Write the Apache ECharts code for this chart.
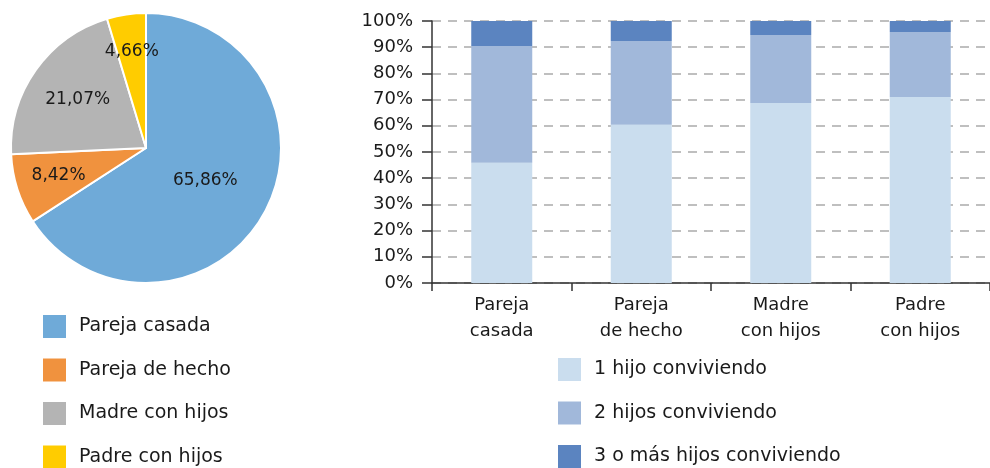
<!DOCTYPE html>
<html>
<head>
    <meta charset="utf-8">
    <title>Hogares con hijos</title>
    <script src="https://cdn.jsdelivr.net/npm/echarts/dist/echarts.min.js"></script>
    <style>
        html, body { margin: 0; padding: 0; background: #fff; }
    </style>
</head>
<body>
    <div id="chart" style="width: 990px; height: 468px;"></div>

    <script type="text/javascript">
        // datos del gráfico circular
        var tiposHogar = ['Pareja casada', 'Pareja de hecho', 'Madre con hijos', 'Padre con hijos'];
        var porcentajesHogar = [65.86, 8.42, 21.07, 4.66];

        // datos de las barras apiladas
        var categorias = ['Pareja\ncasada', 'Pareja\nde hecho', 'Madre\ncon hijos', 'Padre\ncon hijos'];
        var unHijo = [45.9, 60.4, 68.7, 71.0];
        var dosHijos = [44.6, 32.0, 26.0, 24.8];
        var tresOMas = [9.5, 7.6, 5.3, 4.2];
        var nombresSeries = ['1 hijo conviviendo', '2 hijos conviviendo', '3 o más hijos conviviendo'];

        var fuente = 'DejaVu Sans';
        var colorTexto = '#1a1a1a';

        // centro y radio de la tarta, y a qué fracción del radio va cada etiqueta
        var centroTarta = [146, 148];
        var radioTarta = 135;
        var radioEtiqueta = [0.5, 0.68, 0.62, 0.72];

        var chart = echarts.init(document.getElementById('chart'));

        var pieData = tiposHogar.map(function (n, i) {
            return { name: n, value: porcentajesHogar[i] };
        });

        var estiloLeyenda = { fontSize: 19, lineHeight: 23, color: colorTexto, fontFamily: fuente, padding: [0, 0, 0, 8] };

        var option = {
            animation: false,
            color: ['#6FAAD8', '#F0923E', '#B4B4B4', '#FFCC00'],
            textStyle: { fontFamily: fuente, color: colorTexto },
            legend: [
                {
                    orient: 'vertical',
                    left: 43,
                    top: 315,
                    height: 200,
                    padding: 0,
                    itemWidth: 23,
                    itemHeight: 23,
                    itemGap: 20.5,
                    icon: 'rect',
                    itemStyle: { borderWidth: 0 },
                    data: tiposHogar,
                    textStyle: estiloLeyenda
                },
                {
                    orient: 'vertical',
                    left: 558,
                    top: 358,
                    height: 200,
                    padding: 0,
                    itemWidth: 23,
                    itemHeight: 23,
                    itemGap: 20.5,
                    icon: 'rect',
                    itemStyle: { borderWidth: 0 },
                    data: nombresSeries,
                    textStyle: estiloLeyenda
                }
            ],
            grid: {
                left: 432,
                top: 21,
                width: 562,
                bottom: 185,
                containLabel: false
            },
            xAxis: {
                type: 'category',
                data: categorias,
                axisLine: { lineStyle: { color: '#333', width: 1.5 } },
                axisTick: { show: true, length: 8, lineStyle: { color: '#333', width: 1.5 } },
                axisLabel: { fontSize: 18, color: colorTexto, fontFamily: fuente, lineHeight: 26, margin: 9 }
            },
            yAxis: {
                type: 'value',
                min: 0,
                max: 100,
                interval: 10,
                axisLine: { show: true, lineStyle: { color: '#333', width: 1.5 } },
                axisTick: { show: true, length: 10, lineStyle: { color: '#333', width: 1.5 } },
                axisLabel: { fontSize: 18, color: colorTexto, fontFamily: fuente, margin: 19, formatter: '{value}%' },
                splitLine: { lineStyle: { color: '#aaa', type: [9, 7], width: 1.5 } }
            },
            series: [
                {
                    type: 'pie',
                    center: centroTarta,
                    radius: [0, radioTarta],
                    startAngle: 90,
                    clockwise: true,
                    data: pieData,
                    itemStyle: { borderColor: '#fff', borderWidth: 2 },
                    label: {
                        position: 'inside',
                        fontSize: 17,
                        color: colorTexto,
                        fontFamily: fuente,
                        formatter: function (p) {
                            return p.value.toFixed(2).replace('.', ',') + '%';
                        }
                    },
                    // empuja cada etiqueta hacia fuera a lo largo de su radio
                    labelLayout: function (p) {
                        var r = p.labelRect;
                        var vx = r.x + r.width / 2 - centroTarta[0];
                        var vy = r.y + r.height / 2 - centroTarta[1];
                        var len = Math.sqrt(vx * vx + vy * vy) || 1;
                        var k = radioEtiqueta[p.dataIndex] * radioTarta / len - 1;
                        return { dx: vx * k, dy: vy * k };
                    },
                    labelLine: { show: false },
                    emphasis: { disabled: true }
                },
                {
                    name: nombresSeries[0],
                    type: 'bar',
                    stack: 'hijos',
                    barWidth: 61,
                    data: unHijo,
                    itemStyle: { color: '#CADDEE' }
                },
                {
                    name: nombresSeries[1],
                    type: 'bar',
                    stack: 'hijos',
                    data: dosHijos,
                    itemStyle: { color: '#A1B8DA' }
                },
                {
                    name: nombresSeries[2],
                    type: 'bar',
                    stack: 'hijos',
                    data: tresOMas,
                    itemStyle: { color: '#5B84C0' }
                }
            ]
        };

        chart.setOption(option);
    </script>
</body>
</html>
